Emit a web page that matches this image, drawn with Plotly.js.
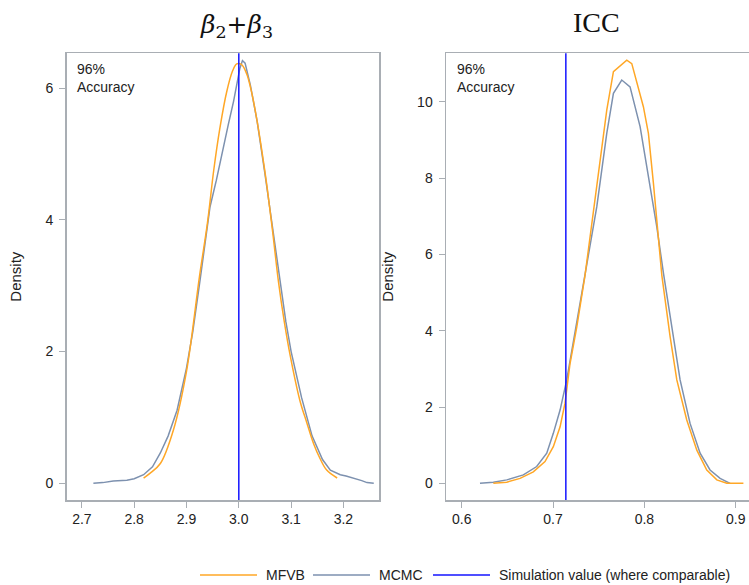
<!DOCTYPE html>
<html>
<head>
<meta charset="utf-8">
<script src="https://cdn.plot.ly/plotly-3.0.1.min.js"></script>
<style>
html, body { margin: 0; padding: 0; overflow: hidden; background: #fff; }
#chart { width: 760px; height: 585px; }
</style>
</head>
<body>
<div id="chart"></div>
<script>
// ---- Data ----
const panelTitles = ["<i>β</i><sub>2</sub>+<i>β</i><sub>3</sub>", "ICC"];
const seriesNames = ["MFVB", "MCMC", "Simulation value (where comparable)"];
const simulationValues = [3.0, 0.714];
const accuracyLabels = ["96%<br>Accuracy", "96%<br>Accuracy"];

const betaTicks = [2.7, 2.8, 2.9, 3.0, 3.1, 3.2];
const iccTicks = [0.6, 0.7, 0.8, 0.9];
const betaYTicks = [0, 2, 4, 6];
const iccYTicks = [0, 2, 4, 6, 8, 10];

const betaMfvbX = [2.818, 2.83, 2.85, 2.875, 2.90, 2.925, 2.94, 2.952, 2.964, 2.977, 2.988, 2.996, 3.005, 3.015, 3.025, 3.035, 3.045, 3.054, 3.065, 3.076, 3.087, 3.098, 3.117, 3.13, 3.143, 3.155, 3.168, 3.188];
const betaMfvbY = [0.08, 0.15, 0.30, 0.81, 1.70, 3.15, 3.95, 4.75, 5.40, 5.95, 6.26, 6.37, 6.36, 6.22, 5.92, 5.50, 5.00, 4.50, 3.80, 3.05, 2.45, 1.95, 1.25, 0.92, 0.60, 0.38, 0.20, 0.08];

const betaMcmcX = [2.722, 2.74, 2.76, 2.786, 2.80, 2.818, 2.835, 2.85, 2.865, 2.882, 2.90, 2.912, 2.926, 2.945, 2.957, 2.969, 2.98, 2.99, 2.996, 3.002, 3.007, 3.012, 3.022, 3.035, 3.05, 3.065, 3.078, 3.09, 3.10, 3.12, 3.14, 3.16, 3.175, 3.194, 3.205, 3.219, 3.235, 3.245, 3.258];
const betaMcmcY = [0.0, 0.01, 0.035, 0.045, 0.07, 0.13, 0.25, 0.46, 0.72, 1.11, 1.75, 2.3, 3.09, 4.2, 4.6, 5.06, 5.45, 5.8, 6.08, 6.3, 6.42, 6.38, 6.05, 5.5, 4.7, 3.85, 3.1, 2.45, 2.0, 1.3, 0.72, 0.36, 0.2, 0.13, 0.11, 0.08, 0.04, 0.01, 0.0];

const iccMfvbX = [0.6346, 0.6493, 0.6639, 0.6784, 0.6912, 0.7003, 0.7077, 0.7131, 0.7186, 0.726, 0.735, 0.7479, 0.7588, 0.7661, 0.7735, 0.7807, 0.7862, 0.7917, 0.7989, 0.8044, 0.8099, 0.8191, 0.8282, 0.8355, 0.8464, 0.8574, 0.8683, 0.8793, 0.8902, 0.9084];
const iccMfvbY = [0, 0.03, 0.13, 0.30, 0.57, 0.96, 1.48, 2.10, 3.14, 4.10, 5.45, 7.86, 9.78, 10.79, 10.95, 11.09, 11.0, 10.48, 9.87, 9.17, 7.86, 5.45, 3.84, 2.71, 1.66, 0.87, 0.35, 0.09, 0, 0];

const iccMcmcX = [0.62, 0.6346, 0.6493, 0.6675, 0.6821, 0.6931, 0.7003, 0.7077, 0.715, 0.7235, 0.735, 0.7479, 0.7588, 0.7661, 0.7752, 0.7843, 0.7953, 0.8044, 0.8136, 0.8209, 0.8318, 0.8391, 0.85, 0.861, 0.8719, 0.8829, 0.8938];
const iccMcmcY = [0, 0.03, 0.09, 0.22, 0.44, 0.79, 1.31, 1.92, 2.71, 3.9, 5.4, 7.25, 9.17, 10.22, 10.57, 10.39, 9.35, 8.03, 6.72, 5.5, 3.84, 2.71, 1.57, 0.79, 0.35, 0.13, 0];

// ---- Styling ----
const W = 760, H = 585;
const px = v => v / W;
const py = v => 1 - v / H;
const ORANGE = "#FFA726";
const GREYBLUE = "#7D91AF";
const BLUE = "#1414FF";
const AXIS = "#A9AEB4";
const TXT = "#222";
const sans = "Liberation Sans, Arial, sans-serif";

const traces = [
  {x: betaMcmcX, y: betaMcmcY, xaxis: "x", yaxis: "y", type: "scatter", mode: "lines", line: {color: GREYBLUE, width: 1.5}, name: seriesNames[1], showlegend: false},
  {x: betaMfvbX, y: betaMfvbY, xaxis: "x", yaxis: "y", type: "scatter", mode: "lines", line: {color: ORANGE, width: 1.5, shape: "spline"}, name: seriesNames[0], showlegend: false},
  {x: iccMcmcX, y: iccMcmcY, xaxis: "x2", yaxis: "y2", type: "scatter", mode: "lines", line: {color: GREYBLUE, width: 1.5}, name: seriesNames[1], showlegend: false},
  {x: iccMfvbX, y: iccMfvbY, xaxis: "x2", yaxis: "y2", type: "scatter", mode: "lines", line: {color: ORANGE, width: 1.5}, name: seriesNames[0], showlegend: false}
];

const axCommon = {
  showline: true, linecolor: AXIS, linewidth: 1.5, mirror: true,
  ticks: "outside", ticklen: 6, tickcolor: AXIS, tickwidth: 1,
  showgrid: false, zeroline: false,
  tickfont: {family: sans, size: 14, color: TXT}
};

const yDomain = [py(500), py(53.3)];

const layout = {
  width: W, height: H,
  margin: {l: 0, r: 0, t: 0, b: 0},
  paper_bgcolor: "#fff", plot_bgcolor: "#fff",
  showlegend: false,
  xaxis: Object.assign({}, axCommon, {domain: [px(66.7), px(379)], range: [2.671, 3.268], tickvals: betaTicks, tickformat: ".1f", anchor: "y"}),
  yaxis: Object.assign({}, axCommon, {domain: yDomain, range: [-0.254, 6.53], tickvals: betaYTicks, anchor: "x", ticklabelstandoff: 3,
    title: {text: "Density", font: {family: sans, size: 15, color: TXT}, standoff: 20}}),
  xaxis2: Object.assign({}, axCommon, {domain: [px(446), px(755)], range: [0.5828, 0.9211], tickvals: iccTicks, tickformat: ".1f", anchor: "y2"}),
  yaxis2: Object.assign({}, axCommon, {domain: yDomain, range: [-0.437, 11.27], tickvals: iccYTicks, anchor: "x2", ticklabelstandoff: 3,
    title: {text: "Density", font: {family: sans, size: 15, color: TXT}, standoff: 20}}),
  shapes: [
    {type: "line", xref: "x", yref: "y domain", x0: simulationValues[0], x1: simulationValues[0], y0: 0, y1: 1, line: {color: BLUE, width: 1.5}},
    {type: "line", xref: "x2", yref: "y2 domain", x0: simulationValues[1], x1: simulationValues[1], y0: 0, y1: 1, line: {color: BLUE, width: 1.5}},
    // legend samples
    {type: "line", xref: "paper", yref: "paper", x0: px(200), x1: px(257), y0: py(575), y1: py(575), line: {color: ORANGE, width: 1.5}},
    {type: "line", xref: "paper", yref: "paper", x0: px(313), x1: px(370), y0: py(575), y1: py(575), line: {color: GREYBLUE, width: 1.5}},
    {type: "line", xref: "paper", yref: "paper", x0: px(433), x1: px(490), y0: py(575), y1: py(575), line: {color: BLUE, width: 1.5}}
  ],
  annotations: [
    {text: panelTitles[0], xref: "paper", yref: "paper", x: px(236), y: py(26), xanchor: "center", yanchor: "middle", showarrow: false,
      font: {family: "DejaVu Serif, Liberation Serif, serif", size: 25, color: "#111"}},
    {text: panelTitles[1], xref: "paper", yref: "paper", x: px(596), y: py(23), xanchor: "center", yanchor: "middle", showarrow: false,
      font: {family: "Liberation Serif, serif", size: 28, color: "#111"}},
    {text: accuracyLabels[0], xref: "paper", yref: "paper", x: px(75), y: py(59), xanchor: "left", yanchor: "top", align: "left", showarrow: false,
      font: {family: sans, size: 14, color: TXT}},
    {text: accuracyLabels[1], xref: "paper", yref: "paper", x: px(455), y: py(59), xanchor: "left", yanchor: "top", align: "left", showarrow: false,
      font: {family: sans, size: 14, color: TXT}},
    {text: seriesNames[0], xref: "paper", yref: "paper", x: px(264), y: py(575), xanchor: "left", yanchor: "middle", showarrow: false,
      font: {family: sans, size: 14, color: TXT}},
    {text: seriesNames[1], xref: "paper", yref: "paper", x: px(377), y: py(575), xanchor: "left", yanchor: "middle", showarrow: false,
      font: {family: sans, size: 14, color: TXT}},
    {text: seriesNames[2], xref: "paper", yref: "paper", x: px(497), y: py(575), xanchor: "left", yanchor: "middle", showarrow: false,
      font: {family: sans, size: 14, color: TXT}}
  ]
};

Plotly.newPlot("chart", traces, layout, {displayModeBar: false, staticPlot: true});
</script>
</body>
</html>
